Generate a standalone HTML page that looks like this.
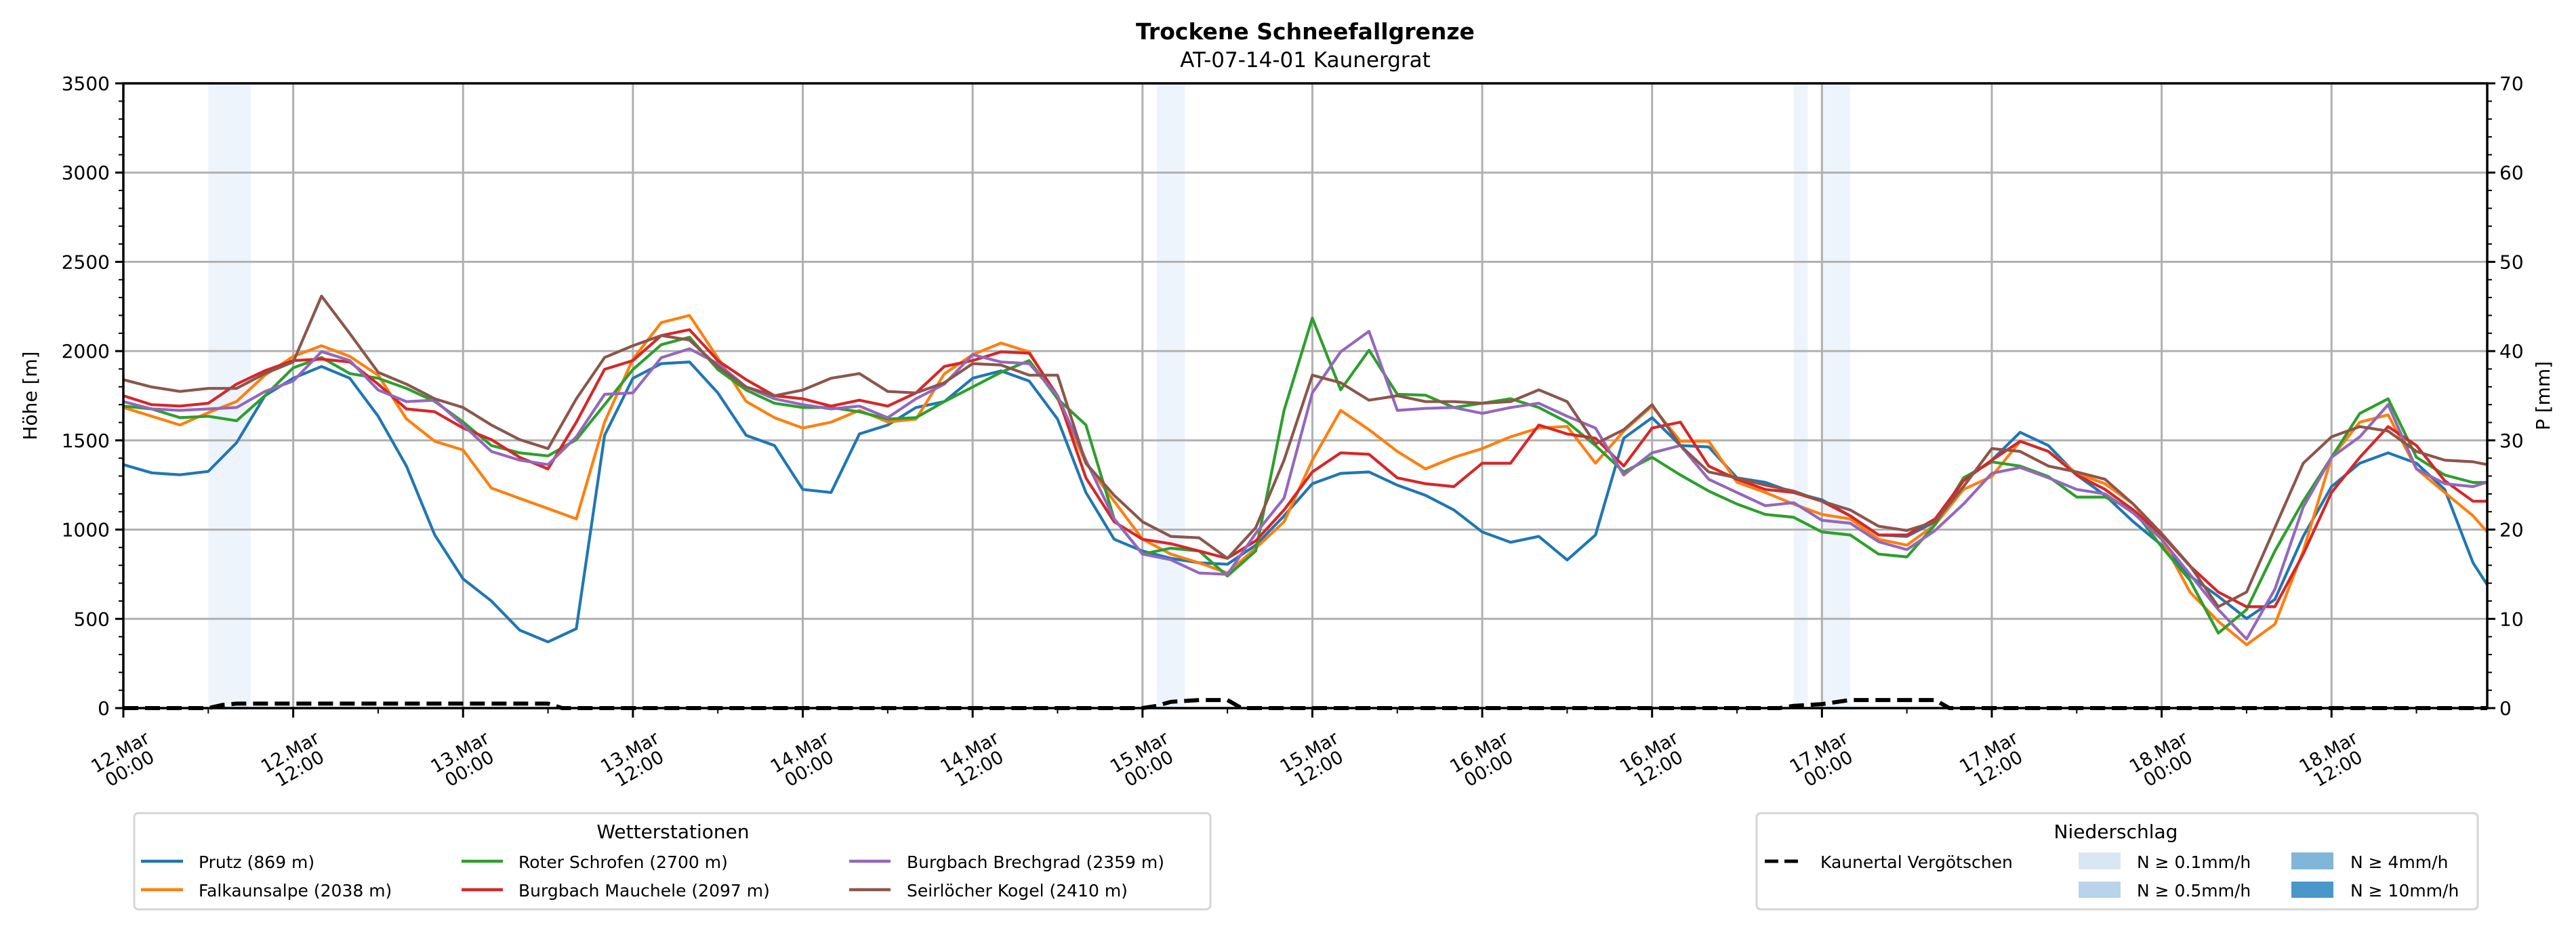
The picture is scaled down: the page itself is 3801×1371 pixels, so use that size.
<!DOCTYPE html>
<html><head><meta charset="utf-8">
<style>
html,body{margin:0;padding:0;background:#fff;}
svg{display:block;font-family:"DejaVu Sans","Liberation Sans",sans-serif;}
</style></head>
<body>
<svg id="chart" width="3801" height="1371" viewBox="0 0 3801 1371" xmlns="http://www.w3.org/2000/svg">
<text x="1926" y="58" text-anchor="middle" font-size="33" font-weight="bold">Trockene Schneefallgrenze</text>
<text x="1926" y="99" text-anchor="middle" font-size="31">AT-07-14-01 Kaunergrat</text>
<g id="bands"></g>
<g id="grid"></g>
<g id="series"></g>
<g id="axes"></g>
<text x="0" y="0" transform="translate(54,584) rotate(-90)" text-anchor="middle" font-size="28">Höhe [m]</text>
<text x="0" y="0" transform="translate(3762,584) rotate(-90)" text-anchor="middle" font-size="28">P [mm]</text>

<g>
<rect x="198" y="1200" width="1588" height="142" rx="6" fill="#fff" stroke="#d5d5d5" stroke-width="3"/>
<text x="993" y="1237" text-anchor="middle" font-size="28">Wetterstationen</text>
<g><line x1="208" y1="1271" x2="270" y2="1271" stroke="#1f77b4" stroke-width="4.5"/><text x="293" y="1281" font-size="25">Prutz (869 m)</text></g>
<g><line x1="208" y1="1313" x2="270" y2="1313" stroke="#ff7f0e" stroke-width="4.5"/><text x="293" y="1323" font-size="25">Falkaunsalpe (2038 m)</text></g>
<g><line x1="681" y1="1271" x2="742" y2="1271" stroke="#2ca02c" stroke-width="4.5"/><text x="765" y="1281" font-size="25">Roter Schrofen (2700 m)</text></g>
<g><line x1="681" y1="1313" x2="742" y2="1313" stroke="#d62728" stroke-width="4.5"/><text x="765" y="1323" font-size="25">Burgbach Mauchele (2097 m)</text></g>
<g><line x1="1253" y1="1271" x2="1314" y2="1271" stroke="#9467bd" stroke-width="4.5"/><text x="1338" y="1281" font-size="25">Burgbach Brechgrad (2359 m)</text></g>
<g><line x1="1253" y1="1313" x2="1314" y2="1313" stroke="#8c564b" stroke-width="4.5"/><text x="1338" y="1323" font-size="25">Seirlöcher Kogel (2410 m)</text></g>
</g>

<g>
<rect x="2592" y="1200" width="1064" height="142" rx="6" fill="#fff" stroke="#d5d5d5" stroke-width="3"/>
<text x="3122" y="1237" text-anchor="middle" font-size="28">Niederschlag</text>
<g><line x1="2604" y1="1271" x2="2660" y2="1271" stroke="#000" stroke-width="5" stroke-dasharray="20,9"/><text x="2686" y="1281" font-size="25">Kaunertal Vergötschen</text></g>
<g><rect x="3067" y="1258" width="62" height="25" fill="#d9e7f4"/><text x="3153" y="1281" font-size="25">N ≥ 0.1mm/h</text></g>
<g><rect x="3067" y="1301" width="62" height="24" fill="#b8d4ea"/><text x="3153" y="1323" font-size="25">N ≥ 0.5mm/h</text></g>
<g><rect x="3381" y="1258" width="62" height="25" fill="#80b6d8"/><text x="3468" y="1281" font-size="25">N ≥ 4mm/h</text></g>
<g><rect x="3381" y="1301" width="62" height="24" fill="#4a97c9"/><text x="3468" y="1323" font-size="25">N ≥ 10mm/h</text></g>
</g>
</svg>
<script>
const times = [0,2,4,6,8,10,12,14,16,18,20,22,24,26,28,30,32,34,36,38,40,42,44,46,48,50,52,54,56,58,60,62,64,66,68,70,72,74,76,78,80,82,84,86,88,90,92,94,96,98,100,102,104,106,108,110,112,114,116,118,120,122,124,126,128,130,132,134,136,138,140,142,144,146,148,150,152,154,156,158,160,162,164,166,167];
const prutz = [1364,1318,1307,1326,1487,1750,1848,1914,1848,1635,1356,970,724,600,437,371,445,1528,1848,1930,1939,1766,1528,1471,1225,1208,1536,1586,1684,1717,1848,1889,1832,1619,1208,946,880,839,814,806,913,1077,1257,1315,1323,1249,1192,1110,987,929,962,830,970,1512,1627,1471,1463,1290,1265,1208,1167,1077,970,962,1044,1274,1389,1545,1471,1306,1192,1044,913,740,626,502,609,962,1241,1372,1430,1372,1225,814,691];
const falkaunsalpe = [1684,1635,1586,1655,1718,1865,1970,2030,1970,1865,1620,1495,1446,1233,1175,1118,1060,1603,1955,2160,2200,1962,1718,1627,1569,1602,1668,1603,1619,1873,1980,2045,1996,1733,1372,1159,946,863,814,757,896,1044,1389,1668,1560,1438,1340,1405,1454,1520,1569,1578,1372,1552,1692,1495,1495,1265,1208,1143,1085,1060,946,913,1028,1225,1298,1495,1438,1315,1257,1143,946,650,486,355,470,880,1405,1602,1643,1340,1208,1077,987];
const roterSchrofen = [1692,1676,1627,1635,1610,1750,1906,1964,1874,1848,1791,1718,1603,1471,1430,1413,1504,1700,1897,2036,2078,1897,1782,1708,1684,1684,1660,1619,1627,1717,1799,1881,1947,1733,1586,1060,863,896,880,740,880,1668,2185,1783,2005,1758,1753,1684,1708,1733,1684,1602,1471,1323,1405,1306,1216,1143,1085,1069,987,970,863,847,1028,1290,1379,1356,1297,1182,1182,1110,904,716,420,552,880,1159,1405,1651,1733,1405,1306,1264,1264];
const mauchele = [1750,1700,1692,1708,1815,1890,1947,1955,1939,1815,1676,1660,1569,1504,1405,1340,1602,1898,1947,2087,2120,1947,1840,1750,1733,1692,1725,1692,1766,1914,1947,1996,1988,1750,1290,1044,946,921,880,839,937,1110,1323,1430,1422,1290,1257,1241,1372,1372,1586,1536,1512,1356,1569,1602,1356,1282,1225,1208,1159,1077,970,970,1060,1274,1389,1495,1438,1306,1225,1110,970,796,650,568,568,863,1208,1405,1577,1471,1274,1159,1159];
const brechgrad = [1717,1676,1668,1676,1684,1774,1832,1997,1947,1782,1717,1725,1586,1438,1389,1364,1520,1758,1766,1963,2013,1930,1799,1733,1700,1676,1692,1627,1733,1815,1980,1939,1930,1750,1389,1060,863,831,757,749,979,1176,1766,1996,2111,1668,1679,1684,1651,1684,1708,1635,1569,1306,1430,1471,1282,1208,1134,1151,1052,1036,932,888,995,1143,1315,1348,1290,1225,1200,1093,946,749,552,387,666,1126,1405,1520,1700,1340,1257,1241,1266];
const seirloecher = [1840,1799,1774,1791,1791,1874,1939,2308,2098,1881,1815,1733,1684,1586,1504,1454,1733,1964,2030,2087,2062,1914,1799,1750,1782,1848,1874,1774,1766,1823,1930,1922,1865,1865,1372,1192,1044,962,954,839,1011,1389,1865,1823,1725,1750,1717,1717,1708,1717,1783,1717,1480,1560,1700,1471,1323,1290,1249,1216,1159,1110,1019,995,1044,1241,1454,1438,1356,1323,1282,1143,978,798,568,650,1011,1372,1520,1577,1552,1438,1389,1380,1364];
const precipTimes = [0,6,7,8,30,31,72,73,74,76,78,79,117,118,120,122,128,129,167];
const precipValues = [0,0,0.35,0.5,0.5,0,0,0.25,0.7,0.9,0.9,0,0,0.25,0.45,0.9,0.9,0,0];
const bandStarts = [6,73,118,120];
const bandEnds = [9,75,119,122];
const xTickHours = [0,12,24,36,48,60,72,84,96,108,120,132,144,156];
const xTickLabels = [["12.Mar","00:00"],["12.Mar","12:00"],["13.Mar","00:00"],["13.Mar","12:00"],["14.Mar","00:00"],["14.Mar","12:00"],["15.Mar","00:00"],["15.Mar","12:00"],["16.Mar","00:00"],["16.Mar","12:00"],["17.Mar","00:00"],["17.Mar","12:00"],["18.Mar","00:00"],["18.Mar","12:00"]];
const yTicks = [0,500,1000,1500,2000,2500,3000,3500];
const y2Ticks = [0,10,20,30,40,50,60,70];

const NS = "http://www.w3.org/2000/svg";
const L = 182, R = 3670, T = 123, B = 1045;
const HMAX = 167;
const xs = h => L + (R - L) * h / HMAX;
const ys = v => B - (B - T) * v / 3500;
const y2s = v => B - (B - T) * v / 70;
function mk(tag, attrs, parent) {
  const e = document.createElementNS(NS, tag);
  for (const k in attrs) e.setAttribute(k, attrs[k]);
  parent.appendChild(e);
  return e;
}
const gB = document.getElementById('bands'), gG = document.getElementById('grid'),
      gS = document.getElementById('series'), gA = document.getElementById('axes');

bandStarts.forEach((s, i) => {
  const r = mk('rect', {x: xs(s), y: T, width: xs(bandEnds[i]) - xs(s), height: B - T, fill: '#eef4fb'}, gB);
  
  
});
xTickHours.forEach(h => {
  if (h === 0) return;
  const l = mk('line', {x1: xs(h), y1: T, x2: xs(h), y2: B, stroke: '#b0b0b0', 'stroke-width': 3}, gG);
  
  
});
yTicks.forEach(v => {
  if (v === 0) return;
  const l = mk('line', {x1: L, y1: ys(v), x2: R, y2: ys(v), stroke: '#b0b0b0', 'stroke-width': 3}, gG);
  
  
});

const seriesList = [
  ['prutz', prutz, '#1f77b4'], ['falkaunsalpe', falkaunsalpe, '#ff7f0e'],
  ['roter-schrofen', roterSchrofen, '#2ca02c'], ['burgbach-mauchele', mauchele, '#d62728'],
  ['burgbach-brechgrad', brechgrad, '#9467bd'], ['seirloecher-kogel', seirloecher, '#8c564b']
];
seriesList.forEach(([name, vals, col]) => {
  const d = vals.map((v, i) => (i ? 'L' : 'M') + xs(times[i]).toFixed(1) + ',' + ys(v).toFixed(1)).join(' ');
  const p = mk('path', {d: d, fill: 'none', stroke: col, 'stroke-width': 4.2, 'stroke-linejoin': 'round'}, gS);
  
  
});
const pd = precipValues.map((v, i) => (i ? 'L' : 'M') + xs(precipTimes[i]).toFixed(1) + ',' + y2s(v).toFixed(1)).join(' ');
const pp = mk('path', {d: pd, fill: 'none', stroke: '#000', 'stroke-width': 6, 'stroke-dasharray': '22,10'}, gS);



const fr = mk('rect', {x: L, y: T, width: R - L, height: B - T, fill: 'none', stroke: '#000', 'stroke-width': 3.5}, gA);


for (let v = 0; v <= 3500; v += 100) {
  const major = v % 500 === 0;
  mk('line', {x1: L, y1: ys(v), x2: L - (major ? 12 : 7), y2: ys(v), stroke: '#000', 'stroke-width': major ? 3 : 2}, gA);
}
yTicks.forEach(v => {
  const t = mk('text', {x: L - 20, y: ys(v) + 10, 'text-anchor': 'end', 'font-size': 28}, gA);
  t.textContent = v;
  
  
});
for (let v = 0; v <= 70; v += 2) {
  const major = v % 10 === 0;
  mk('line', {x1: R, y1: y2s(v), x2: R + (major ? 12 : 7), y2: y2s(v), stroke: '#000', 'stroke-width': major ? 3 : 2}, gA);
}
y2Ticks.forEach(v => {
  const t = mk('text', {x: R + 18, y: y2s(v) + 10, 'text-anchor': 'start', 'font-size': 28}, gA);
  t.textContent = v;
  
  
});
for (let h = 0; h <= 162; h += 6) {
  const major = h % 12 === 0;
  mk('line', {x1: xs(h), y1: B, x2: xs(h), y2: B + (major ? 14 : 8), stroke: '#000', 'stroke-width': major ? 3 : 2}, gA);
}
xTickHours.forEach((h, i) => {
  const t = mk('text', {'text-anchor': 'middle', 'font-size': 27, transform: 'translate(' + xs(h) + ',1118) rotate(-30)'}, gA);
  
  
  const a = mk('tspan', {x: 0, y: 0}, t); a.textContent = xTickLabels[i][0];
  const b = mk('tspan', {x: 0, y: 28}, t); b.textContent = xTickLabels[i][1];
});
</script>
</body></html>
